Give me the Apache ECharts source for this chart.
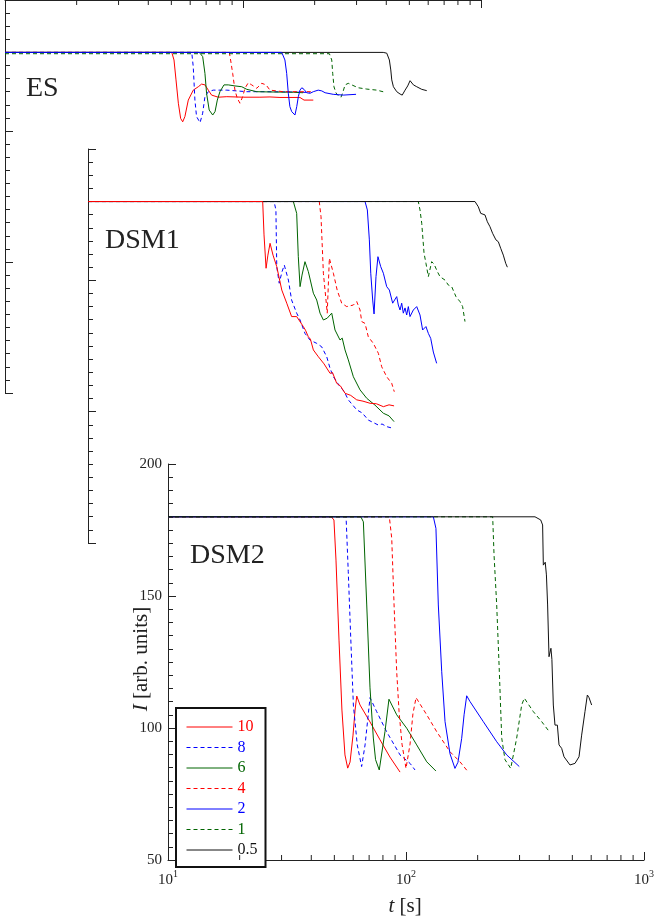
<!DOCTYPE html>
<html>
<head>
<meta charset="utf-8">
<script src="https://cdn.jsdelivr.net/npm/echarts@6/dist/echarts.min.js"></script>
<style>
  html, body { margin: 0; padding: 0; background: #fff; }
  #chart { width: 659px; height: 921px; }
</style>
</head>
<body>
<div id="chart"></div>
<script>
// Heating rates (legend entries) and panel names
const rates = ['10', '8', '6', '4', '2', '1', '0.5'];
const panelNames = ['ES', 'DSM1', 'DSM2'];
const yTicks = [50, 100, 150, 200];
const xTicks = [10, 100, 1000];
const minorT = [20, 30, 40, 50, 60, 70, 80, 90, 200, 300, 400, 500, 600, 700, 800, 900];

// ES panel: [t (s), I (arb. units)]
const ES_10 = [[10,180],[50.2,180],[51.3,177.1],[52.3,169.5],[53.5,160.6],[54.7,154.8],[55.8,153.5],[57.0,155.5],[58.9,161.8],[61.8,165.6],[64.9,166.9],[67.0,167.9],[69.2,167.6],[71.5,165.6],[73.8,163.7],[78.7,162.9],[85.5,163.1],[100.2,162.9],[117.8,162.9],[129.8,163.0],[143.0,162.8],[173.5,162.8],[180.5,161.8],[197.4,161.8]];
const ES_8 = [[10,180],[60.9,180],[61.8,174.5],[62.8,161.8],[63.8,155.5],[66.0,153.2],[67.7,156.8],[69.2,163.1],[71.5,165.0],[75.0,165.6],[85.5,165.6],[103.7,165.0],[125.9,165.0],[157.4,164.9],[191.3,164.7]];
const ES_6 = [[10,180],[65.5,180],[67.7,178.4],[69.2,172.0],[70.3,164.4],[72.1,158.0],[74.6,156.1],[76.3,157.4],[78.0,161.8],[80.0,165.0],[83.2,167.6],[86.7,167.6],[92.5,167.2],[98.8,166.9],[103.7,165.9],[114.2,165.0],[129.8,164.9],[162.6,164.8],[178.6,164.6]];
const ES_4 = [[10,180],[87.6,180],[88.7,177.1],[90.5,172.0],[92.5,165.6],[94.6,162.5],[97.1,160.6],[99.7,163.1],[101.9,166.3],[105.2,168.4],[108.8,167.6],[114.2,166.3],[119.9,168.2],[125.0,167.6],[129.8,165.6],[147.6,165.0],[197.4,165.0]];
const ES_2 = [[10,180],[145.5,180],[150.0,177.1],[152.6,172.0],[155.0,164.4],[157.4,159.3],[160.2,157.4],[165.3,156.1],[168.2,159.3],[170.8,163.1],[173.5,165.6],[176.6,166.5],[180.4,165.9],[185.2,164.6],[191.3,164.4],[197.4,165.0],[207.0,165.6],[214.3,165.3],[221.3,164.6],[239.3,164.0],[263.6,163.7],[298.5,164.0]];
const ES_1 = [[10,179.5],[230.7,179.5],[236.0,177.1],[238.2,172.0],[241.1,166.9],[245.9,164.5],[251.8,163.4],[258.2,162.9],[263.0,164.9],[268.5,167.6],[276.9,168.2],[304.8,166.5],[331.1,166.0],[364.8,165.6],[395.4,164.8]];
const ES_05 = [[10,180],[388.2,180],[401.8,179.7],[412.1,177.1],[417.8,173.3],[421.7,169.5],[428.5,166.9],[442.6,165.0],[457.1,164.1],[466.7,163.7],[479.7,165.6],[492.0,167.2],[503.5,169.2],[520.0,167.6],[537.0,166.9],[563.6,165.9],[591.6,165.4]];

// DSM1 panel
const D1_10 = [[10,180],[54.2,180],[54.9,167.3],[56.0,154.6],[57.0,159.6],[58.2,164.1],[59.9,159.6],[62.1,155.2],[65.2,146.3],[68.4,141.3],[71.7,136.2],[75.3,136.2],[80.3,132.4],[82.0,131.0],[84.3,128.5],[86.0,127.6],[88.5,123.5],[92.9,120.9],[98.1,118.2],[104.0,114.6],[106.5,114.9],[110.9,110.8],[115.0,109.8],[120.2,107.0],[127.0,106.2],[134.6,104.5],[143.0,104.0],[153.1,103.2],[163.0,103.0],[174.2,101.9],[184.0,102.6],[193.2,102.2]];
const D1_8 = [[10,180],[60.5,180],[61.6,176.8],[62.1,155.2],[63.6,148.9],[65.3,153.2],[66.8,155.8],[69.5,150.1],[71.7,142.5],[75.3,137.5],[77.8,134.9],[81.6,129.8],[85.6,127.3],[91.4,126.0],[95.9,124.7],[100.7,120.9],[104.0,116.5],[107.4,113.3],[114.5,109.5],[119.0,107.8],[124.1,104.5],[134.6,100.7],[142.0,99.5],[150.6,96.8],[166.0,94.9],[172.0,95.3],[179.9,94.3],[190.6,93.7]];
const D1_6 = [[10,180],[72.9,180],[75.3,175.5],[76.5,159.0],[77.8,147.6],[79.3,152.0],[81.6,157.1],[84.3,153.3],[88.5,145.1],[91.4,142.5],[94.4,137.5],[97.5,134.9],[101.2,135.6],[105.7,137.5],[109.1,131.1],[114.5,127.3],[117.0,128.0],[120.2,123.5],[124.1,119.7],[130.3,113.3],[139.0,108.3],[148.3,105.1],[160.6,102.5],[174.2,99.4],[184.0,98.4],[193.2,96.2]];
const D1_4 = [[10,180],[93.7,180],[95.3,174.2],[97.5,152.7],[100.0,142.5],[101.2,137.5],[103.3,158.4],[107.4,152.7],[111.4,146.3],[116.4,141.3],[122.2,140.0],[130.3,140.6],[134.6,141.9],[139.0,138.7],[141.3,134.3],[145.9,133.6],[150.6,128.5],[158.1,126.0],[166.0,122.2],[171.4,117.1],[179.9,113.3],[188.8,110.8],[193.6,107.6]];
const D1_2 = [[10,180],[145.9,180],[149.2,176.8],[152.1,165.4],[154.2,152.7],[157.1,142.5],[159.2,137.2],[162.2,151.4],[165.3,159.0],[169.8,155.2],[174.2,152.7],[179.9,147.6],[184.6,146.3],[190.6,141.3],[198.2,143.8],[201.3,140.6],[204.7,138.7],[208.0,141.3],[211.3,137.5],[214.8,139.5],[218.3,136.8],[221.8,140.0],[225.4,136.2],[232.8,138.7],[240.5,140.0],[248.3,136.8],[254.7,131.1],[263.0,132.4],[269.2,129.8],[275.4,127.9],[282.5,122.7],[291.7,118.4]];
const D1_1 = [[10,180],[244.3,180],[248.3,176.8],[252.5,171.7],[258.2,160.3],[263.0,156.5],[269.2,151.4],[278.0,157.1],[284.4,156.2],[293.8,153.3],[301.3,151.4],[316.2,150.1],[326.6,148.2],[337.3,147.6],[351.6,143.8],[365.6,141.9],[375.0,140.0],[383.7,134.3]];
const D1_05 = [[10,180],[422.7,180],[436.5,178.0],[446.7,175.5],[465.6,174.9],[476.4,172.3],[488.7,170.4],[501.2,167.9],[517.6,165.4],[529.7,164.7],[542.0,162.2],[555.9,159.6],[568.9,156.5],[578.1,155.0]];

// DSM2 panel
const D2_10 = [[10,180],[48.5,180],[49.8,178.8],[50.8,163.6],[52.3,133.3],[53.8,106.8],[55.4,89.8],[56.9,84.8],[58.2,87.1],[59.9,97.3],[61.1,106.8],[62.1,112.1],[64.1,108.7],[70.6,102.3],[77.8,95.5],[85.6,89.0],[94.4,83.3]];
const D2_8 = [[10,180],[56.0,180],[57.2,159.2],[58.6,134.0],[60.1,108.7],[62.4,93.6],[65.1,85.4],[67.3,93.6],[70.6,111.5],[75.3,106.2],[82.9,98.6],[94.4,89.8],[104.0,86.6],[109.1,84.1]];
const D2_6 = [[10,180],[64.6,180],[66.2,178.1],[68.4,146.6],[70.6,115.2],[72.9,96.2],[74.5,88.0],[77.2,84.1],[81.6,98.6],[84.8,110.9],[91.4,105.0],[100.7,99.9],[110.9,93.6],[122.2,87.2],[133.6,83.7]];
const D2_4 = [[10,180],[85.1,180],[87.1,171.9],[89.1,146.6],[91.4,121.3],[93.5,106.2],[96.2,93.9],[100.0,84.7],[104.0,93.9],[106.9,105.3],[110.2,111.5],[122.2,105.0],[134.6,98.6],[153.1,91.0],[168.6,87.2],[181.1,83.7]];
const D2_2 = [[10,180],[130.3,180],[133.6,175.6],[136.7,146.6],[141.3,121.3],[145.9,102.4],[153.1,90.2],[160.6,84.7],[165.3,87.0],[171.4,96.1],[175.4,105.0],[179.9,112.2],[185.8,110.0],[211.3,102.4],[240.5,94.8],[265.0,89.8],[299.2,85.4]];
const D2_1 = [[10,180],[231.3,180],[234.4,165.5],[240.5,146.6],[246.7,121.3],[252.5,96.1],[260.6,88.0],[275.4,84.7],[291.7,96.1],[306.2,108.7],[314.1,111.3],[342.8,106.2],[371.7,102.4],[400.0,98.6]];
const D2_05 = [[10,180],[348.3,180],[368.1,178.8],[375.0,176.9],[377.6,161.7],[384.6,162.8],[389.0,158.0],[393.6,146.6],[398.9,127.0],[406.4,130.2],[410.2,126.0],[415.9,108.7],[422.7,101.1],[432.5,101.1],[439.5,93.6],[450.8,92.3],[461.3,89.1],[488.7,86.0],[512.9,86.6],[533.3,89.1],[547.0,97.3],[564.9,106.2],[578.1,112.5],[587.5,111.5],[602.6,108.7]];

const panelData = [
  [ES_10, ES_8, ES_6, ES_4, ES_2, ES_1, ES_05],
  [D1_10, D1_8, D1_6, D1_4, D1_2, D1_1, D1_05],
  [D2_10, D2_8, D2_6, D2_4, D2_2, D2_1, D2_05]
];

// Line styles per rate
const rateColors = ['#ff0000', '#0000ff', '#006400', '#ff0000', '#0000ff', '#006400', '#111111'];
const rateDash = ['solid', [4, 3], 'solid', [4, 3], 'solid', [4, 3], 'solid'];
// Curve drawn above the others in each panel (index into rates)
const topCurve = [4, 0, 6];

const FONT = 'Liberation Serif';
const AXIS_COLOR = '#222';

const grids = [
  { left: 5, top: 0, width: 476, height: 393 },
  { left: 88, top: 149, width: 476, height: 394 },
  { left: 168, top: 464, width: 476, height: 396 }
];

const chart = echarts.init(document.getElementById('chart'), null, { renderer: 'canvas' });

const xAxes = grids.map((g, i) => ({
  type: 'log',
  logBase: 10,
  gridIndex: i,
  min: xTicks[0],
  max: xTicks[xTicks.length - 1],
  position: i === 0 ? 'top' : 'bottom',
  show: i !== 1,
  axisLine: { show: true, lineStyle: { color: AXIS_COLOR, width: 1 } },
  axisTick: { show: true, inside: true, length: 8, lineStyle: { color: AXIS_COLOR } },
  splitLine: { show: false },
  minorTick: { show: false },
  axisLabel: {
    show: i === 2,
    margin: 9,
    formatter: v => '{b|10}{s|' + Math.round(Math.log10(v)) + '}',
    rich: {
      b: { fontFamily: FONT, fontSize: 15, color: '#222', padding: [4, 0, 0, 0], verticalAlign: 'bottom' },
      s: { fontFamily: FONT, fontSize: 10, color: '#222', verticalAlign: 'top' }
    }
  }
}));

const yAxes = grids.map((g, i) => ({
  type: 'value',
  gridIndex: i,
  min: yTicks[0],
  max: yTicks[yTicks.length - 1],
  interval: 50,
  axisLine: { show: true, lineStyle: { color: AXIS_COLOR, width: 1 } },
  axisTick: { show: true, inside: true, length: 8, lineStyle: { color: AXIS_COLOR } },
  minorTick: { show: true, splitNumber: 10, length: 5, lineStyle: { color: AXIS_COLOR } },
  splitLine: { show: false },
  minorSplitLine: { show: false },
  axisLabel: {
    show: i === 2,
    margin: 6,
    fontFamily: FONT,
    fontSize: 15,
    color: '#222'
  }
}));

const series = [];
panelData.forEach((curves, p) => {
  curves.forEach((data, r) => {
    series.push({
      type: 'line',
      name: rates[r],
      xAxisIndex: p,
      yAxisIndex: p,
      data: data,
      symbol: 'none',
      showSymbol: false,
      silent: true,
      animation: false,
      lineStyle: { color: rateColors[r], width: 1, type: rateDash[r] },
      itemStyle: { color: rateColors[r] },
      z: r === topCurve[p] ? 3 : 2
    });
  });
});

// Minor log ticks on the visible time axes (top of ES, bottom of DSM2)
function minorTickSeries(axisIdx, yVal, dir) {
  return {
    type: 'custom',
    xAxisIndex: axisIdx,
    yAxisIndex: axisIdx,
    silent: true,
    animation: false,
    clip: false,
    data: minorT.map(t => [t, yVal]),
    encode: { x: 0, y: 1 },
    renderItem: (params, api) => {
      const pt = api.coord([api.value(0), api.value(1)]);
      return {
        type: 'line',
        shape: { x1: pt[0], y1: pt[1], x2: pt[0], y2: pt[1] + dir * 5 },
        style: { stroke: AXIS_COLOR, lineWidth: 1 }
      };
    },
    z: 4
  };
}
series.push(minorTickSeries(0, yTicks[yTicks.length - 1], 1));
series.push(minorTickSeries(2, yTicks[0], -1));

const panelLabelPos = [[26, 88.5], [105, 240.5], [190, 555.5]];

const graphics = panelNames.map((name, i) => ({
  type: 'text',
  x: panelLabelPos[i][0],
  y: panelLabelPos[i][1],
  silent: true,
  style: {
    text: name,
    fill: '#222',
    fontFamily: FONT,
    fontSize: 28,
    align: 'left',
    verticalAlign: 'middle'
  },
  z: 10
}));

graphics.push({
  type: 'text',
  x: 141,
  y: 659,
  rotation: Math.PI / 2,
  silent: true,
  style: {
    text: '{i|I} [arb. units]',
    fill: '#222',
    fontFamily: FONT,
    fontSize: 21,
    align: 'center',
    verticalAlign: 'middle',
    rich: {
      i: { fontFamily: FONT, fontSize: 21, fontStyle: 'italic', fill: '#222' }
    }
  },
  z: 10
});

graphics.push({
  type: 'text',
  x: 405,
  y: 906,
  silent: true,
  style: {
    text: '{i|t} [s]',
    fill: '#222',
    fontFamily: FONT,
    fontSize: 21,
    align: 'center',
    verticalAlign: 'middle',
    rich: {
      i: { fontFamily: FONT, fontSize: 21, fontStyle: 'italic', fill: '#222' }
    }
  },
  z: 10
});

chart.setOption({
  animation: false,
  backgroundColor: '#fff',
  grid: grids.map(g => Object.assign({ containLabel: false }, g)),
  xAxis: xAxes,
  yAxis: yAxes,
  legend: {
    orient: 'vertical',
    left: 176,
    top: 708,
    itemWidth: 46,
    itemHeight: 14,
    itemGap: 4.5,
    padding: [11, 8, 9, 10],
    borderColor: '#111',
    borderWidth: 2,
    borderRadius: 0,
    backgroundColor: '#fff',
    selectedMode: false,
    itemStyle: { opacity: 0, borderWidth: 0 },
    lineStyle: { width: 1 },
    data: rates.map((r, k) => ({
      name: r,
      textStyle: { color: rateColors[k], fontFamily: FONT, fontSize: 16 }
    })),
    textStyle: { fontFamily: FONT, fontSize: 16 }
  },
  graphic: graphics,
  series: series
});
</script>
</body>
</html>
